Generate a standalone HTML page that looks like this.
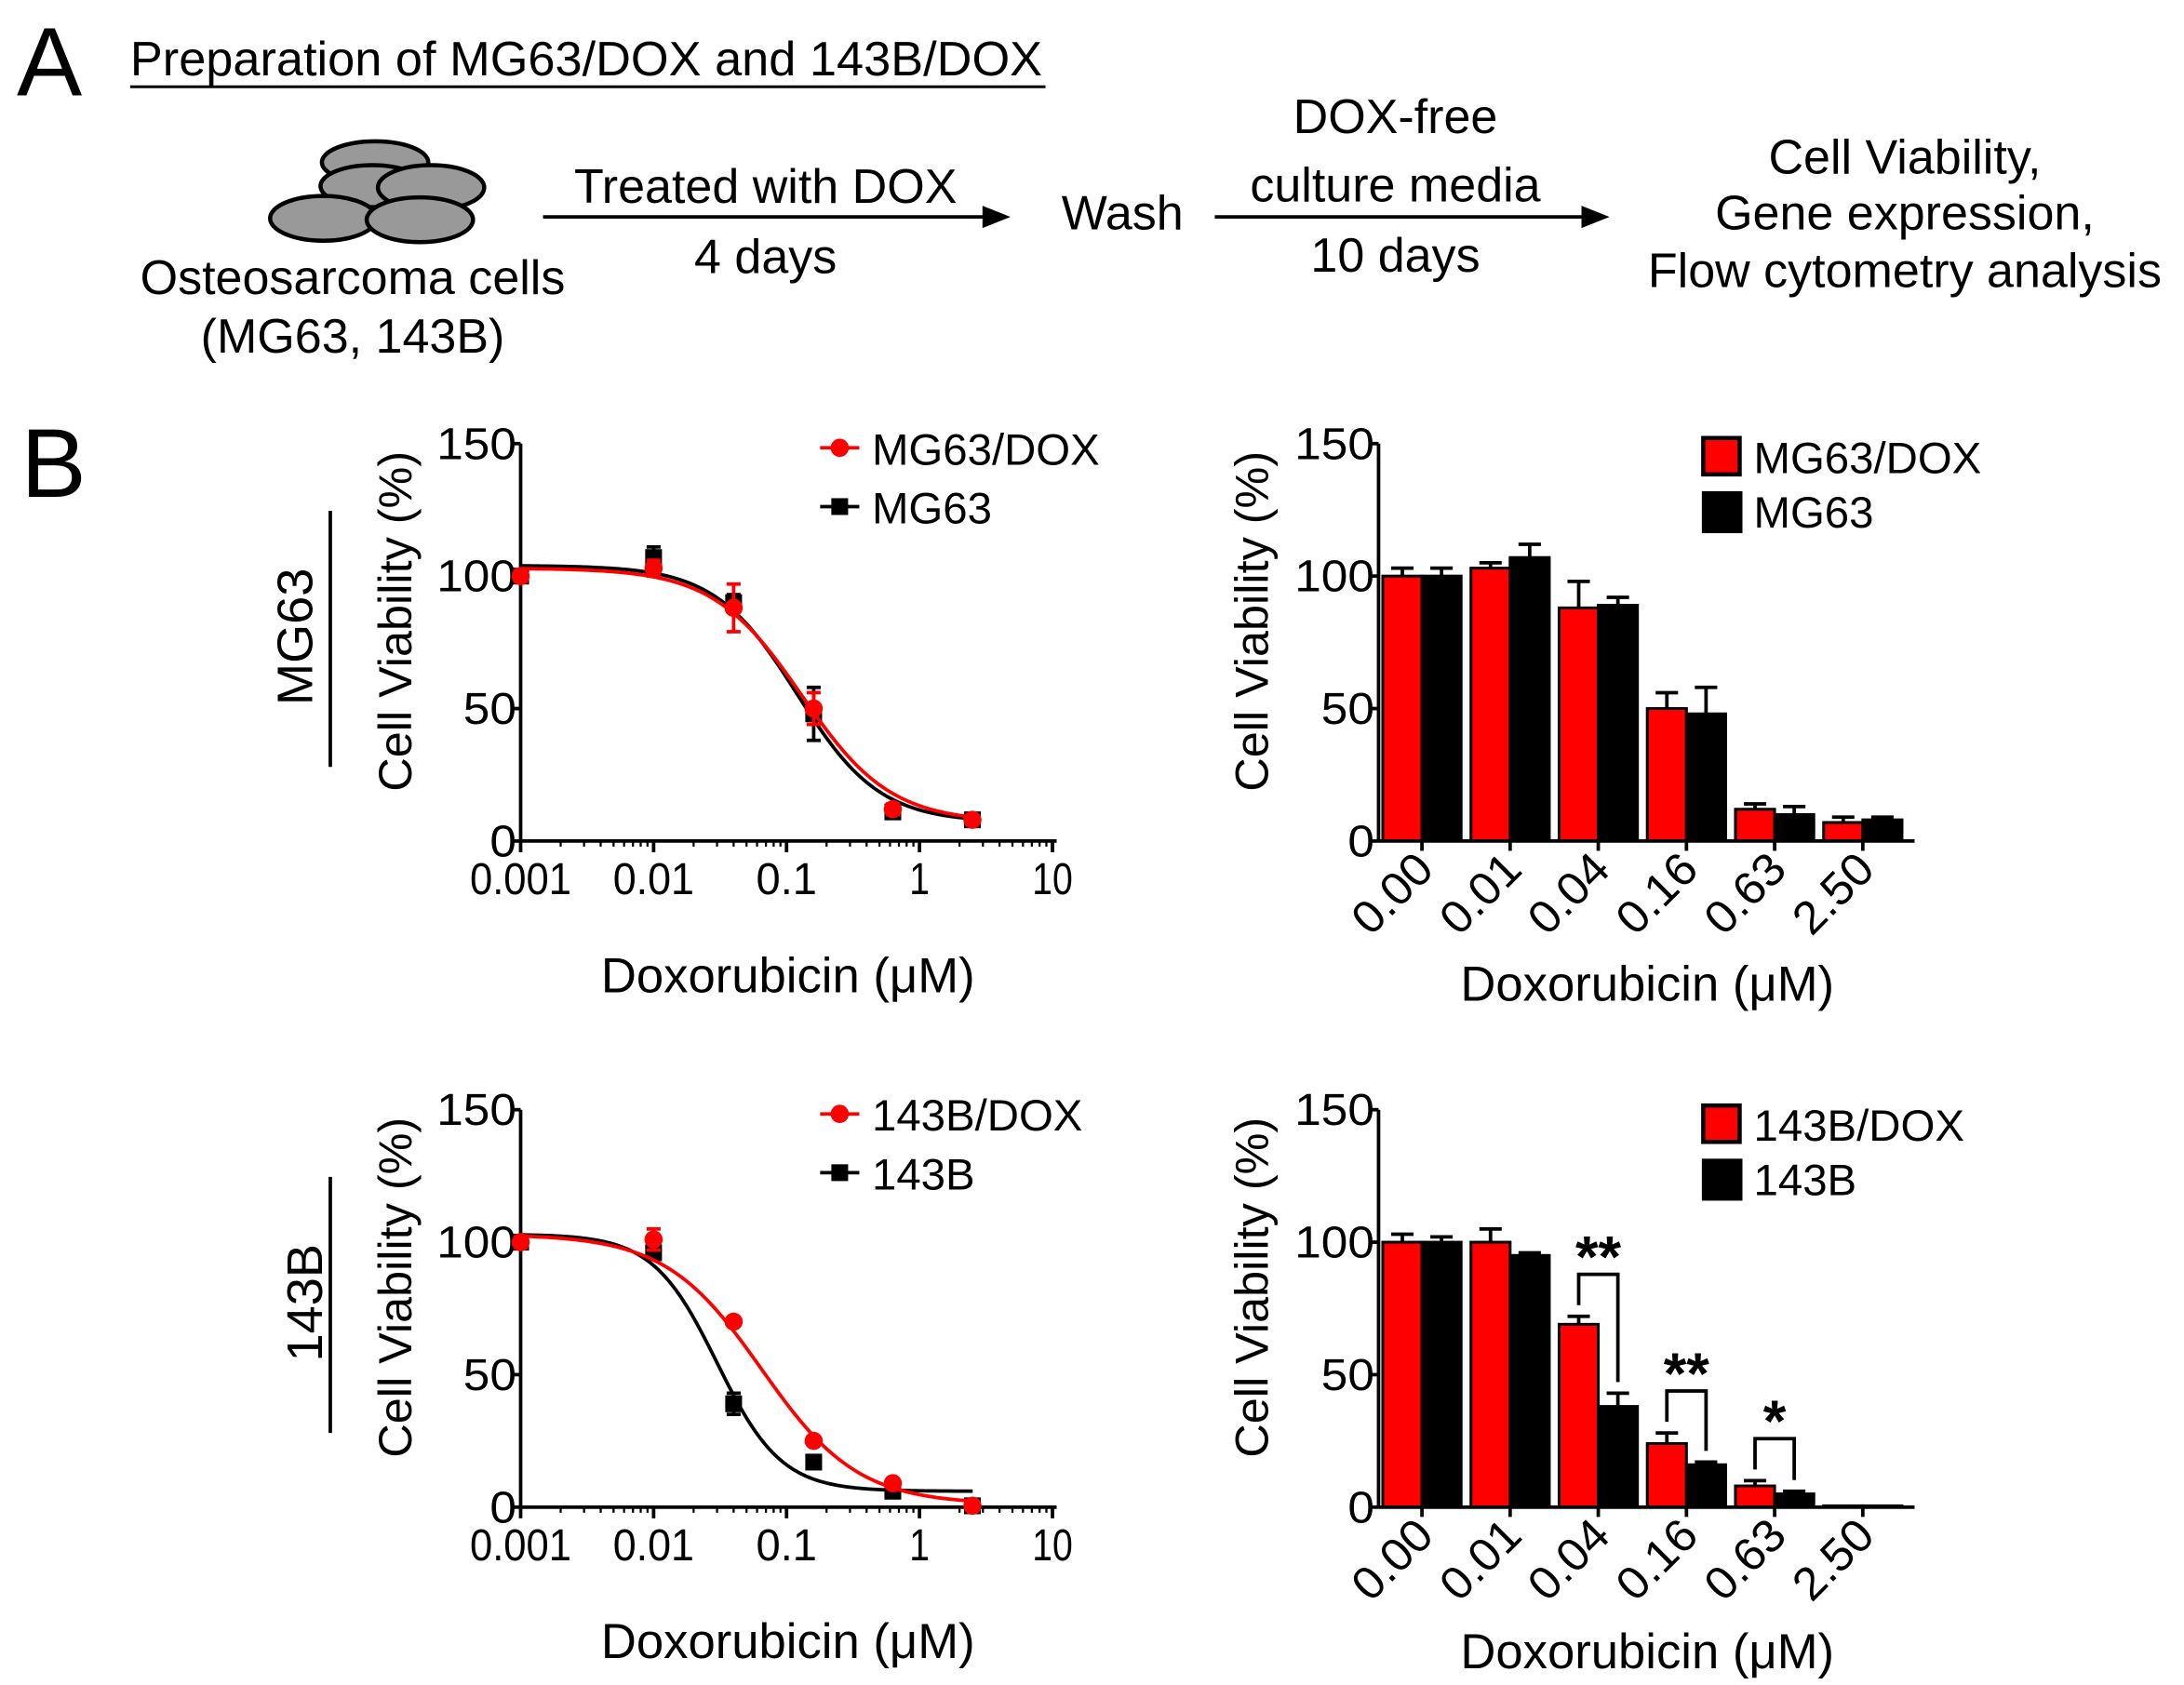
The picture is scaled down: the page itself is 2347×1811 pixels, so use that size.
<!DOCTYPE html>
<html><head><meta charset="utf-8"><style>
html,body{margin:0;padding:0;background:#fff}
svg{display:block;font-family:"Liberation Sans",Arial,sans-serif}
</style></head><body>
<svg id="fig" width="2347" height="1811" viewBox="0 0 1560.5 1204.1" xmlns="http://www.w3.org/2000/svg">
<g>
<text x="12" y="68" font-size="70">A</text>
<text x="93" y="54" font-size="34.8">Preparation of MG63/DOX and 143B/DOX</text>
<line x1="93" y1="62" x2="747" y2="62" stroke="#000" stroke-width="2"/>
<g fill="#999" stroke="#000" stroke-width="3">
<ellipse cx="268" cy="116" rx="38" ry="15"/>
<ellipse cx="266" cy="133" rx="37" ry="15"/>
<ellipse cx="308" cy="134" rx="38" ry="16"/>
<ellipse cx="231" cy="156" rx="38" ry="16"/>
<ellipse cx="300" cy="157" rx="38" ry="16"/>
</g>
<g font-size="34.6" text-anchor="middle">
<text x="252" y="210">Osteosarcoma cells</text>
<text x="252" y="252">(MG63, 143B)</text>
<text x="547" y="145">Treated with DOX</text>
<text x="547" y="195">4 days</text>
<text x="802" y="164">Wash</text>
<text x="997" y="95">DOX-free</text>
<text x="997" y="144">culture media</text>
<text x="997" y="194">10 days</text>
<text x="1361" y="124">Cell Viability,</text>
<text x="1361" y="164">Gene expression,</text>
<text x="1361" y="205">Flow cytometry analysis</text>
</g>
<g><line x1="388" y1="155" x2="705" y2="155" stroke="#000" stroke-width="2.5"/><polygon points="722,155 702,147 702,163"/></g>
<g><line x1="868" y1="155" x2="1133" y2="155" stroke="#000" stroke-width="2.5"/><polygon points="1150,155 1130,147 1130,163"/></g>
</g>
<text x="15" y="355" font-size="70">B</text>
<g id="charts"></g>
</svg>
<script>
// ---- data ----
const doses = [0.001, 0.01, 0.04, 0.16, 0.63, 2.5];
const doseLabels = ["0.00","0.01","0.04","0.16","0.63","2.50"];
const logTicks = ["0.001","0.01","0.1","1","10"];
const yTicks = [0, 50, 100, 150];
const mg63DoxVals = [100, 103, 88, 50, 12, 8];
const mg63DoxErr = [2, 3, 9, 6, 2, 1];
const mg63Vals = [100, 107, 90, 48, 11, 8];
const mg63Err = [2, 4, 3, 10, 2, 2];
const b143DoxVals = [100, 101, 70, 25, 9, 0.5];
const b143DoxErr = [2, 4, 1, 1, 1, 0];
const b143Vals = [100, 96, 39, 17, 6, 0.5];
const b143Err = [2, 2, 4, 1, 1, 0];
// 4PL fit parameters: [top, bottom, IC50, hill]
const mg63DoxFit = [103, 7, 0.13, 1.3];
const mg63Fit = [104, 7, 0.12, 1.4];
const b143DoxFit = [103, 1, 0.065, 1.2];
const b143Fit = [103, 6, 0.03, 1.8];
const barMg63DoxVals = [100, 103, 88, 50, 12, 7];
const barMg63DoxErr = [3, 2, 10, 6, 2, 2];
const barMg63Vals = [100, 107, 89, 48, 10, 8];
const barMg63Err = [3, 5, 3, 10, 3, 1];
const bar143DoxVals = [100, 100, 69, 24, 8, 0.5];
const bar143DoxErr = [3, 5, 3, 4, 2, 0];
const bar143Vals = [100, 95, 38, 16, 5, 0.5];
const bar143Err = [2, 1, 5, 1, 1, 0];
const sigPairs = [2, 3, 4];
const sigLabels = ["**", "**", "*"];

const NS = "http://www.w3.org/2000/svg";
const root = document.getElementById("charts");
function mk(tag, attrs, parent, txt) {
  const e = document.createElementNS(NS, tag);
  for (const k in attrs) e.setAttribute(k, attrs[k]);
  if (txt !== undefined) e.textContent = txt;
  (parent || root).appendChild(e);
  return e;
}
const RED = "#ff0000";

function yAxis(g, x, y0, y150, label, lx) {
  const ys = v => y0 - (v / 150) * (y0 - y150);
  mk("line", {x1:x, y1:y150, x2:x, y2:y0, stroke:"#000", "stroke-width":2.5}, g);
  yTicks.forEach(t => {
    mk("line", {x1:x-6, y1:ys(t), x2:x, y2:ys(t), stroke:"#000", "stroke-width":2.5}, g);
    const tx = mk("text", {x:x-3, y:ys(t)+11, "font-size":32, "text-anchor":"end", textLength: String(t).length*19, lengthAdjust:"spacingAndGlyphs"}, g, t);
    
    
  });
  const yl = mk("text", {x:0, y:0, "font-size":33.5, "text-anchor":"middle", transform:`translate(${lx},${(y0+y150)/2-15}) rotate(-90)`}, g, label);
  
  
  return ys;
}

function lineChart(y0, y150, redV, redE, redF, blkV, blkE, blkF, names, sideLabel) {
  const g = mk("g", {});
  
  
  const x0 = 372, dec = 95;
  const xs = d => x0 + (Math.log10(d) + 3) * dec;
  const ys = yAxis(g, x0, y0, y150, "Cell Viability (%)", 294);
  mk("line", {x1:x0, y1:y0, x2:755, y2:y0, stroke:"#000", "stroke-width":2.5}, g);
  for (let e = -3; e <= 1; e++) {
    const base = Math.pow(10, e);
    mk("line", {x1:xs(base), y1:y0, x2:xs(base), y2:y0+8, stroke:"#000", "stroke-width":2.5}, g);
    if (e < 1) for (let m = 2; m <= 9; m++) mk("line", {x1:xs(base*m), y1:y0, x2:xs(base*m), y2:y0+4, stroke:"#000", "stroke-width":1.5}, g);
    const lbl = logTicks[e+3];
    const t = mk("text", {x:xs(base), y:y0+38, "font-size":32, "text-anchor":"middle", textLength: lbl.length*14.5, lengthAdjust:"spacingAndGlyphs"}, g, lbl);
    
    
  }
  const xl = mk("text", {x:563, y:y0+108, "font-size":35, "text-anchor":"middle"}, g, "Doxorubicin (\u03bcM)");
  
  
  const sl = mk("text", {x:0, y:0, "font-size":36, "text-anchor":"middle", transform:`translate(${sideLabel[1]},${y0-146}) rotate(-90)`}, g, sideLabel[0]);
  
  
  mk("line", {x1:236, y1:y0-236, x2:236, y2:y0-53, stroke:"#000", "stroke-width":2.5}, g);
  function curve(F, col, nm) {
    let d = "";
    for (let i = 0; i <= 200; i++) {
      const lx = -3 + i * (0.4 + 3) / 200;
      const c = Math.pow(10, lx);
      const v = F[1] + (F[0] - F[1]) / (1 + Math.pow(c / F[2], F[3]));
      d += (i ? "L" : "M") + xs(c).toFixed(2) + "," + ys(v).toFixed(2);
    }
    const p = mk("path", {d, fill:"none", stroke:col, "stroke-width":2.5}, g);
    
    
  }
  function pts(V, E, col, sq, nm) {
    V.forEach((v, i) => {
      const x = xs(doses[i]), y = ys(v);
      if (E[i] > 0) {
        mk("line", {x1:x, y1:ys(v+E[i]), x2:x, y2:ys(v-E[i]), stroke:col, "stroke-width":2.5}, g);
        mk("line", {x1:x-5, y1:ys(v+E[i]), x2:x+5, y2:ys(v+E[i]), stroke:col, "stroke-width":2.5}, g);
        mk("line", {x1:x-5, y1:ys(v-E[i]), x2:x+5, y2:ys(v-E[i]), stroke:col, "stroke-width":2.5}, g);
      }
      const m = sq ? mk("rect", {x:x-6, y:y-6, width:12, height:12, fill:col}, g) : mk("circle", {cx:x, cy:y, r:6.5, fill:col}, g);
      
      
    });
  }
  curve(blkF, "#000", names[1]);
  pts(blkV, blkE, "#000", true, names[1]);
  curve(redF, RED, names[0]);
  pts(redV, redE, RED, false, names[0]);
  const ly = y150 + 3;
  mk("line", {x1:586, y1:ly, x2:614, y2:ly, stroke:RED, "stroke-width":2.5}, g);
  mk("circle", {cx:600, cy:ly, r:6.5, fill:RED}, g);
  const l1 = mk("text", {x:623, y:ly+12, "font-size":31.5}, g, names[0]);
  
  
  mk("line", {x1:586, y1:ly+42, x2:614, y2:ly+42, stroke:"#000", "stroke-width":2.5}, g);
  mk("rect", {x:594, y:ly+36, width:12, height:12, fill:"#000"}, g);
  const l2 = mk("text", {x:623, y:ly+54, "font-size":31.5}, g, names[1]);
  
  
}

function barChart(y0, y150, redV, redE, blkV, blkE, names, xlY, legY, sig) {
  const g = mk("g", {});
  
  
  const x0 = 985, gw = 63, bw = 28, gStart = 988;
  const ys = yAxis(g, x0, y0, y150, "Cell Viability (%)", 906);
  const bars = (V, E, col, off, nm) => V.forEach((v, i) => {
    const x = gStart + i * gw + off;
    if (E[i] > 0) {
      mk("line", {x1:x+bw/2, y1:ys(v), x2:x+bw/2, y2:ys(v+E[i]), stroke:"#000", "stroke-width":2.5}, g);
      mk("line", {x1:x+bw/2-8, y1:ys(v+E[i]), x2:x+bw/2+8, y2:ys(v+E[i]), stroke:"#000", "stroke-width":2.5}, g);
    }
    const r = mk("rect", {x:x, y:ys(v), width:bw, height:y0-ys(v), fill:col, stroke:"#000", "stroke-width":2}, g);
    
    
  });
  bars(redV, redE, RED, 0, names[0]);
  bars(blkV, blkE, "#000", bw, names[1]);
  mk("line", {x1:x0, y1:y0, x2:1368, y2:y0, stroke:"#000", "stroke-width":2.5}, g);
  doseLabels.forEach((l, i) => {
    const tx = gStart + i * gw + bw;
    mk("line", {x1:tx, y1:y0, x2:tx, y2:y0+7, stroke:"#000", "stroke-width":2.5}, g);
    const t = mk("text", {x:0, y:0, "font-size":33, "text-anchor":"end", textLength:66, lengthAdjust:"spacingAndGlyphs", transform:`translate(${tx+10},${y0+22}) rotate(-45)`}, g, l);
    
    
  });
  const xl = mk("text", {x:1177, y:xlY, "font-size":35, "text-anchor":"middle"}, g, "Doxorubicin (\u03bcM)");
  
  
  mk("rect", {x:1217, y:legY, width:26, height:26, fill:RED, stroke:"#000", "stroke-width":3}, g);
  const l1 = mk("text", {x:1253, y:legY+25, "font-size":31.5}, g, names[0]);
  
  
  mk("rect", {x:1216, y:legY+38, width:29, height:30, fill:"#000"}, g);
  const l2 = mk("text", {x:1253, y:legY+64, "font-size":31.5}, g, names[1]);
  
  
  if (sig) sigPairs.forEach((i, k) => {
    const xr = gStart + i * gw + bw/2, xb = xr + bw;
    const top = ys(redV[i] + redE[i]) - 30;
    const bk = mk("path", {d:`M${xr},${ys(redV[i]+redE[i])-8} V${top} H${xb} V${ys(blkV[i]+blkE[i])-8}`, fill:"none", stroke:"#000", "stroke-width":2.5}, g);
    
    
    const st = mk("text", {x:(xr+xb)/2, y:top+2, "font-size":42, "font-weight":"bold", "text-anchor":"middle"}, g, sigLabels[k]);
    
    
  });
}

lineChart(601, 317, mg63DoxVals, mg63DoxErr, mg63DoxFit, mg63Vals, mg63Err, mg63Fit, ["MG63/DOX","MG63"], ["MG63", 223]);
lineChart(1077, 793, b143DoxVals, b143DoxErr, b143DoxFit, b143Vals, b143Err, b143Fit, ["143B/DOX","143B"], ["143B", 230]);
barChart(601, 317, barMg63DoxVals, barMg63DoxErr, barMg63Vals, barMg63Err, ["MG63/DOX","MG63"], 715, 313, false);
barChart(1077, 793, bar143DoxVals, bar143DoxErr, bar143Vals, bar143Err, ["143B/DOX","143B"], 1192, 790, true);
</script>
</body></html>
